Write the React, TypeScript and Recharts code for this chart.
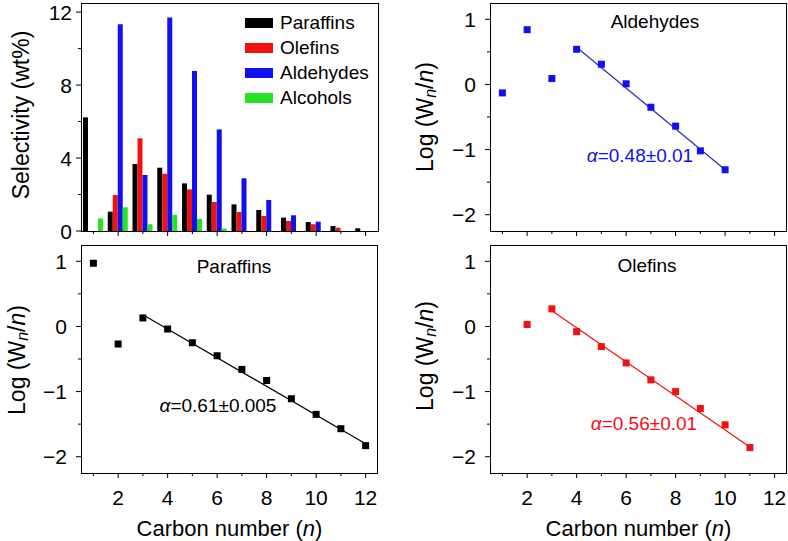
import {
  Bar,
  BarChart,
  Customized,
  Legend,
  ReferenceLine,
  Scatter,
  ScatterChart,
  XAxis,
  YAxis,
} from "recharts";

const font = "'Liberation Sans', Arial, Helvetica, sans-serif";
const black = "#000000";
const red = "#f21010";
const blue = "#1010f0";
const darkBlue = "#2a2ab4";
const green = "#22e622";

// carbon numbers shared by every panel
const carbonNumbers = [1, 2, 3, 4, 5, 6, 7, 8, 9, 10, 11, 12];

// selectivity (wt%) per carbon number
const paraffinSelectivity = [6.23, 1.06, 3.67, 3.47, 2.61, 1.99, 1.46, 1.15, 0.73, 0.49, 0.27, 0.15];
const olefinSelectivity = [0, 1.97, 5.08, 3.14, 2.28, 1.59, 1.04, 0.82, 0.55, 0.37, 0.18, 0];
const aldehydeSelectivity = [0, 11.34, 3.07, 11.71, 8.77, 5.57, 2.89, 1.7, 0.86, 0.51, 0, 0];
const alcoholSelectivity = [0.69, 1.3, 0.37, 0.88, 0.66, 0.13, 0, 0, 0, 0, 0, 0];

// log(Wn/n) values for the ASF plots
const aldehydeN = [1, 2, 3, 4, 5, 6, 7, 8, 9, 10];
const aldehydeLog = [-0.13, 0.84, 0.09, 0.54, 0.31, 0.01, -0.35, -0.64, -1.02, -1.31];
const paraffinN = [1, 2, 3, 4, 5, 6, 7, 8, 9, 10, 11, 12];
const paraffinLog = [0.97, -0.27, 0.13, -0.04, -0.25, -0.45, -0.66, -0.83, -1.11, -1.35, -1.57, -1.83];
const olefinN = [2, 3, 4, 5, 6, 7, 8, 9, 10, 11];
const olefinLog = [0.03, 0.27, -0.08, -0.31, -0.56, -0.82, -1.0, -1.26, -1.51, -1.86];

// fitted lines (end points)
const aldehydeFitN = [4, 10];
const aldehydeFitLog = [0.57, -1.31];
const paraffinFitN = [3, 12];
const paraffinFitLog = [0.18, -1.8];
const olefinFitN = [3, 11];
const olefinFitLog = [0.24, -1.85];

const selectivityTicks = [0, 2, 4, 6, 8, 10, 12];
const logTicks = [-2, -1.5, -1, -0.5, 0, 0.5, 1];
const xDomain = [0.5, 12.5];
const selectivityDomain = [0, 12.5];
const logDomain = [-2.25, 1.25];

const seriesNames = ["Paraffins", "Olefins", "Aldehydes", "Alcohols"];
const seriesColors = [black, red, blue, green];

const barRows = carbonNumbers.map((n, i) => ({
  n,
  paraffins: paraffinSelectivity[i],
  olefins: olefinSelectivity[i],
  aldehydes: aldehydeSelectivity[i],
  alcohols: alcoholSelectivity[i],
}));

function toPoints(xs: number[], ys: number[]) {
  return xs.map((n, i) => ({ n, v: ys[i] }));
}

function toSegment(xs: number[], ys: number[]) {
  return xs.map((x, i) => ({ x, y: ys[i] }));
}

function formatTick(v: number) {
  return v < 0 ? `\u2212${Math.abs(v)}` : String(v);
}

function leftTick(isMajor: (v: number) => boolean, gap: number) {
  return (props: any) => {
    const { x, y, payload } = props;
    const major = isMajor(payload.value);
    return (
      <g>
        <line x1={x - (major ? 5 : 3)} y1={y} x2={x} y2={y} stroke={black} strokeWidth={1} />
        {major && (
          <text
            x={x - gap}
            y={y}
            textAnchor="end"
            dominantBaseline="central"
            fontFamily={font}
            fontSize={21}
            fill={black}
          >
            {formatTick(payload.value)}
          </text>
        )}
      </g>
    );
  };
}

function bottomTick(showLabels: boolean) {
  return (props: any) => {
    const { x, y, payload } = props;
    const major = payload.value % 2 === 0;
    return (
      <g>
        <line x1={x} y1={y} x2={x} y2={y + (major ? 5 : 3)} stroke={black} strokeWidth={1} />
        {showLabels && major && (
          <text
            x={x}
            y={y + 24}
            textAnchor="middle"
            dominantBaseline="central"
            fontFamily={font}
            fontSize={21}
            fill={black}
          >
            {payload.value}
          </text>
        )}
      </g>
    );
  };
}

function RotatedTitle({ x, y, children }: { x: number; y: number; children: React.ReactNode }) {
  return (
    <text
      x={x}
      y={y}
      transform={`rotate(-90 ${x} ${y})`}
      textAnchor="middle"
      dominantBaseline="central"
      fontFamily={font}
      fontSize={23}
      fill={black}
    >
      {children}
    </text>
  );
}

function LogTitle({ x, y }: { x: number; y: number }) {
  return (
    <RotatedTitle x={x} y={y}>
      Log (W
      <tspan fontStyle="italic" fontSize={16} dy={5}>
        n
      </tspan>
      <tspan dy={-5}>/</tspan>
      <tspan fontStyle="italic">n</tspan>)
    </RotatedTitle>
  );
}

function CarbonTitle({ x, y }: { x: number; y: number }) {
  return (
    <text x={x} y={y} textAnchor="middle" dominantBaseline="central" fontFamily={font} fontSize={22} fill={black}>
      Carbon number (<tspan fontStyle="italic">n</tspan>)
    </text>
  );
}

function SelectivityLegend() {
  return (
    <div style={{ fontFamily: font, fontSize: 19, color: black }}>
      {seriesNames.map((name, i) => (
        <div key={name} style={{ display: "flex", alignItems: "center", height: 25 }}>
          <span style={{ display: "inline-block", width: 28, height: 10, background: seriesColors[i], marginRight: 7 }} />
          {name}
        </div>
      ))}
    </div>
  );
}

function SelectivityPanel() {
  return (
    <BarChart
      width={390}
      height={250}
      data={barRows}
      margin={{ top: 3, right: 12, bottom: 0, left: 0 }}
      barSize={5}
      barGap={0}
    >
      <XAxis
        dataKey="n"
        type="number"
        domain={xDomain}
        ticks={carbonNumbers}
        interval={0}
        tickSize={0}
        tickMargin={0}
        axisLine={false}
        tick={bottomTick(false)}
        height={19}
        allowDataOverflow
      />
      <YAxis
        type="number"
        domain={selectivityDomain}
        ticks={selectivityTicks}
        interval={0}
        tickSize={0}
        tickMargin={0}
        axisLine={false}
        tick={leftTick((v) => v % 4 === 0, 9)}
        width={81}
        allowDataOverflow
      />
      <Bar dataKey="paraffins" name="Paraffins" fill={black} isAnimationActive={false} />
      <Bar dataKey="olefins" name="Olefins" fill={red} isAnimationActive={false} />
      <Bar dataKey="aldehydes" name="Aldehydes" fill={blue} isAnimationActive={false} />
      <Bar dataKey="alcohols" name="Alcohols" fill={green} isAnimationActive={false} />
      <Legend
        layout="vertical"
        align="center"
        verticalAlign="middle"
        content={() => <SelectivityLegend />}
        wrapperStyle={{ top: 10, left: 245, width: 140, height: 100 }}
      />
      <Customized
        component={() => (
          <RotatedTitle x={21} y={115}>
            Selectivity (wt%)
          </RotatedTitle>
        )}
      />
    </BarChart>
  );
}

type LogPanelProps = {
  width: number;
  height: number;
  axisWidth: number;
  marginTop: number;
  marginRight: number;
  axisHeight: number;
  points: { n: number; v: number }[];
  fit: { x: number; y: number }[];
  color: string;
  lineColor: string;
  title: string;
  titleAt: [number, number];
  note: string;
  noteAt: [number, number];
  noteColor: string;
  yTitleAt: [number, number];
  showXLabels: boolean;
};

function LogPanel(p: LogPanelProps) {
  const square = (s: any) => <rect x={s.cx - 3.5} y={s.cy - 3.5} width={7} height={7} fill={p.color} />;
  const plotWidth = p.width - p.axisWidth - p.marginRight;
  return (
    <ScatterChart
      width={p.width}
      height={p.height}
      margin={{ top: p.marginTop, right: p.marginRight, bottom: 0, left: 0 }}
    >
      <XAxis
        dataKey="n"
        type="number"
        domain={xDomain}
        ticks={carbonNumbers}
        interval={0}
        tickSize={0}
        tickMargin={0}
        axisLine={false}
        tick={bottomTick(p.showXLabels)}
        height={p.axisHeight}
        allowDataOverflow
      />
      <YAxis
        dataKey="v"
        type="number"
        domain={logDomain}
        ticks={logTicks}
        interval={0}
        tickSize={0}
        tickMargin={0}
        axisLine={false}
        tick={leftTick((v) => Number.isInteger(v), 14)}
        width={p.axisWidth}
        allowDataOverflow
      />
      <ReferenceLine segment={p.fit} stroke={p.lineColor} strokeWidth={1.2} ifOverflow="visible" />
      <Scatter data={p.points} fill={p.color} shape={square} isAnimationActive={false} />
      <Customized
        component={() => (
          <g>
            <LogTitle x={p.yTitleAt[0]} y={p.yTitleAt[1]} />
            <text
              x={p.titleAt[0]}
              y={p.titleAt[1]}
              textAnchor="middle"
              dominantBaseline="central"
              fontFamily={font}
              fontSize={19}
              fill={black}
            >
              {p.title}
            </text>
            <text
              x={p.noteAt[0]}
              y={p.noteAt[1]}
              textAnchor="middle"
              dominantBaseline="central"
              fontFamily={font}
              fontSize={19}
              fill={p.noteColor}
            >
              <tspan fontStyle="italic">α</tspan>
              {p.note}
            </text>
            {p.showXLabels && <CarbonTitle x={p.axisWidth + plotWidth / 2} y={288} />}
          </g>
        )}
      />
    </ScatterChart>
  );
}

// plot boxes, page pixels: left, top, width, height
const boxes = [
  [81, 3, 298, 229],
  [490, 3, 297, 229],
  [81, 245, 297, 229],
  [490, 245, 297, 229],
];

export default function App() {
  return (
    <div style={{ position: "absolute", left: 0, top: 0, width: 788, height: 541, background: "#fff" }}>
      <div style={{ position: "absolute", left: 0, top: 0 }}>
        <SelectivityPanel />
      </div>
      <div style={{ position: "absolute", left: 390, top: 0 }}>
        <LogPanel
          width={398}
          height={250}
          axisWidth={100}
          marginTop={3}
          marginRight={1}
          axisHeight={19}
          points={toPoints(aldehydeN, aldehydeLog)}
          fit={toSegment(aldehydeFitN, aldehydeFitLog)}
          color={blue}
          lineColor={darkBlue}
          title="Aldehydes"
          titleAt={[265, 21]}
          note="=0.48±0.01"
          noteAt={[250, 155]}
          noteColor={blue}
          yTitleAt={[35, 117]}
          showXLabels={false}
        />
      </div>
      <div style={{ position: "absolute", left: 0, top: 240 }}>
        <LogPanel
          width={390}
          height={301}
          axisWidth={81}
          marginTop={5}
          marginRight={12}
          axisHeight={68}
          points={toPoints(paraffinN, paraffinLog)}
          fit={toSegment(paraffinFitN, paraffinFitLog)}
          color={black}
          lineColor={black}
          title="Paraffins"
          titleAt={[234, 26]}
          note="=0.61±0.005"
          noteAt={[218, 165]}
          noteColor={black}
          yTitleAt={[17, 120]}
          showXLabels
        />
      </div>
      <div style={{ position: "absolute", left: 390, top: 240 }}>
        <LogPanel
          width={398}
          height={301}
          axisWidth={100}
          marginTop={5}
          marginRight={1}
          axisHeight={68}
          points={toPoints(olefinN, olefinLog)}
          fit={toSegment(olefinFitN, olefinFitLog)}
          color={red}
          lineColor={red}
          title="Olefins"
          titleAt={[257, 25]}
          note="=0.56±0.01"
          noteAt={[254, 183]}
          noteColor={red}
          yTitleAt={[35, 116]}
          showXLabels
        />
      </div>
      {boxes.map(([left, top, width, height]) => (
        <div
          key={`${left}-${top}`}
          style={{
            position: "absolute",
            left,
            top,
            width,
            height,
            boxSizing: "border-box",
            border: `1px solid ${black}`,
            pointerEvents: "none",
          }}
        />
      ))}
    </div>
  );
}
